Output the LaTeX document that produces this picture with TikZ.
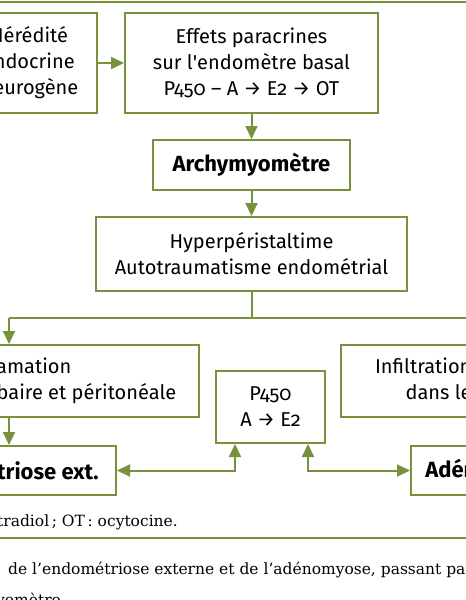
\documentclass[tikz,border=0pt]{standalone}
\usepackage{fontspec}
\setmainfont{DejaVu Serif}
\newfontfamily\boxfont{Fira Sans}[Numbers=OldStyle]
\usetikzlibrary{arrows.meta,calc}
\definecolor{olive}{RGB}{118,146,60}
\tikzset{
  box/.style={draw=olive,line width=2pt,fill=white,inner sep=0pt,align=center,
    font=\boxfont\fontsize{20}{26}\selectfont},
  boldbox/.style={box,font=\boxfont\bfseries\fontsize{22}{26}\selectfont},
  conn/.style={draw=olive,line width=2pt},
  arr/.style={conn,-{Triangle[width=12pt,length=13pt]}},
  darr/.style={conn,{Triangle[width=12pt,length=13pt]}-{Triangle[width=12pt,length=13pt]}},
  frameline/.style={draw=olive,line width=2.6pt},
  captext/.style={font=\fontsize{15.5}{18}\selectfont,text=black,inner sep=0pt}
}
\begin{document}
\begin{tikzpicture}[x=1pt,y=-1pt]
\useasboundingbox (0,0) rectangle (466,600);
\clip (0,0) rectangle (466,600);
\fill[white] (0,0) rectangle (466,600);
% frame lines
\coordinate (tl) at (-5,2); \coordinate (tr) at (480,2);
\coordinate (bl) at (-5,538); \coordinate (br) at (480,538);
\draw[frameline] (tl) -- (tr);
\draw[frameline] (bl) -- (br);
% boxes
\node[box,minimum width=136pt,minimum height=100pt] (her) at (29,63) {Hérédité\\Endocrine\\Neurogène};
\node[box,minimum width=253pt,minimum height=100pt] (eff) at (251.5,63) {Effets paracrines\\sur l\textquotesingle endomètre basal\\P450 – A → E2 → OT};
\node[boldbox,minimum width=197pt,minimum height=50pt] (arch) at (251.5,165) {Archymyomètre};
\node[box,minimum width=311pt,minimum height=74pt] (hyp) at (251.5,254) {Hyperpéristaltime\\Autotraumatisme endométrial};
\node[box,align=left,minimum width=244pt,minimum height=72pt] (infl) at (77,381) {\hspace*{-11pt}Inflamation\\tubaire et péritonéale};
\node[box,minimum width=109pt,minimum height=72pt] (p450) at (270.5,407) {P450\\A → E2};
\node[box,minimum width=292pt,minimum height=72pt] (infil) at (487,381) {Infiltration endométriale\\dans le myomètre};
\node[boldbox,minimum width=217pt,minimum height=49pt] (endo) at (7.5,470.5) {Endométriose ext.};
\node[boldbox,minimum width=158pt,minimum height=49pt] (aden) at (490,470.5) {Adénomyose};
% connectors
\draw[arr] (her.east) -- (eff.west);
\draw[arr] (eff.south) -- (arch.north);
\draw[arr] (arch.south) -- (hyp.north);
\coordinate (split) at (251.5,318);
\coordinate (lft) at (9,318);
\coordinate (rgt) at (490,318);
\draw[conn] (hyp.south) -- (split);
\draw[conn] (lft) -- (rgt);
\draw[arr] (lft) -- (lft |- infl.north);
\draw[arr] (lft |- infl.south) -- (lft |- endo.north);
\coordinate (pl) at (235,470.5);
\coordinate (pr) at (308,470.5);
\draw[darr] (endo.east) -- (pl) -- (pl |- p450.south);
\draw[darr] (pr |- p450.south) -- (pr) -- (aden.west);
% captions
\node[captext,anchor=base east] (leg) at (178,526) {E2\,: estradiol\,; OT\,: ocytocine.};
\node[captext,anchor=base west] (cap1) at (8,574) {de l’endométriose externe et de l’adénomyose, passant par l’archimyomètre};
\node[captext,anchor=base east] (cap2) at (66,605) {l’archimyomètre.};
\end{tikzpicture}
\end{document}
